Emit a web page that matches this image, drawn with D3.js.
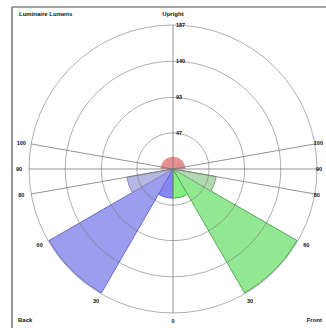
<!DOCTYPE html>
<html><head><meta charset="utf-8">
<script src="https://cdn.jsdelivr.net/npm/d3@7"></script>
<style>
body{margin:0;background:#fff;}
svg{display:block;}
text{font-family:"Liberation Sans",Arial,sans-serif;font-weight:bold;fill:#111;}
</style></head><body>
<svg id="c" width="326" height="328"></svg>
<script>
const zoneStart = [0, 30, 60, 80];
const zoneEnd = [30, 60, 80, 90];
const backLumens = [38, 186, 61, 0];
const frontLumens = [38, 186, 57, 0];
const upStart = 90, upEnd = 180;
const upBack = 16, upFront = 16;
const ringValues = [47, 93, 140, 187];
const angleTicks = [0, 30, 60, 80, 90, 100];
const spokeAngles = [80, 90, 100];
const backColors = ["#8585f4", "#9d9df0", "#b6b6e2", "#b6b6e2"];
const backStroke = ["#6464c8", "#6a6ac4", "#8a8ac0", "#8a8ac0"];
const frontColors = ["#84f084", "#92e892", "#b2dab2", "#b2dab2"];
const frontStroke = ["#50b050", "#56a856", "#80a880", "#80a880"];

const svg = d3.select("#c");
const cx = 173, cy = 169, R = 144;
const r = d3.scaleLinear().domain([0, 187]).range([0, R]);
const rad = d => d * Math.PI / 180;
const g = svg.append("g").attr("transform", `translate(${cx},${cy})`);

// frame
svg.append("line").attr("x1", 12).attr("y1", 7).attr("x2", 326).attr("y2", 7).attr("stroke", "#8a8a8a").attr("stroke-width", 1.6);
svg.append("line").attr("x1", 12).attr("y1", 7).attr("x2", 12).attr("y2", 328).attr("stroke", "#8a8a8a").attr("stroke-width", 1.8);

const arc = d3.arc();
const wedges = [];
zoneStart.forEach((s, i) => {
  wedges.push({side: "back", s, e: zoneEnd[i], v: backLumens[i], fill: backColors[i], stroke: backStroke[i]});
  wedges.push({side: "front", s, e: zoneEnd[i], v: frontLumens[i], fill: frontColors[i], stroke: frontStroke[i]});
});
wedges.push({side: "back", s: upStart, e: upEnd, v: upBack, fill: "#e89090", stroke: "none"});
wedges.push({side: "front", s: upStart, e: upEnd, v: upFront, fill: "#e89090", stroke: "none"});

g.selectAll("path.w").data(wedges.filter(d => d.v > 0)).join("path")
  .attr("class", "w")
  .attr("d", d => {
    let a0, a1;
    if (d.side === "front") { a0 = Math.PI - rad(d.e); a1 = Math.PI - rad(d.s); }
    else { a0 = Math.PI + rad(d.s); a1 = Math.PI + rad(d.e); }
    return arc({innerRadius: 0, outerRadius: r(d.v), startAngle: a0, endAngle: a1});
  })
  .attr("fill", d => d.fill)
  .attr("stroke", d => d.stroke)
  .attr("stroke-width", 1);

g.selectAll("circle.ring").data(ringValues).join("circle")
  .attr("class", "ring").attr("r", d => r(d))
  .attr("fill", "none").attr("stroke", "#777").attr("stroke-opacity", 0.75).attr("stroke-width", 0.8);

const pt = (deg, rr, side) => {
  const sgn = side === "front" ? 1 : -1;
  return [sgn * rr * Math.sin(rad(deg)), rr * Math.cos(rad(deg))];
};
g.append("line").attr("x1", 0).attr("y1", -R).attr("x2", 0).attr("y2", R).attr("stroke", "#777").attr("stroke-width", 0.8);
spokeAngles.forEach(a => {
  const p1 = pt(a, R, "back"), p2 = pt(a, R, "front");
  g.append("line").attr("x1", 0).attr("y1", 0).attr("x2", p1[0]).attr("y2", p1[1]).attr("stroke", "#777").attr("stroke-width", 0.8);
  g.append("line").attr("x1", 0).attr("y1", 0).attr("x2", p2[0]).attr("y2", p2[1]).attr("stroke", "#777").attr("stroke-width", 0.8);
});

g.selectAll("text.rl").data(ringValues).join("text")
  .attr("class", "rl").attr("x", 3).attr("y", d => -r(d)).attr("dy", "0.35em")
  .attr("font-size", 5.5).text(d => d);

const lab = [];
angleTicks.forEach(a => {
  if (a === 0) { lab.push({a, side: "front"}); return; }
  lab.push({a, side: "back"}); lab.push({a, side: "front"});
});
const nearEdge = d => d.side === "front" && d.a >= 80;
g.selectAll("text.al").data(lab).join("text")
  .attr("class", "al")
  .attr("x", d => nearEdge(d) ? pt(d.a, R, d.side)[0] - 1 : pt(d.a, R + 10, d.side)[0])
  .attr("y", d => pt(d.a, R + 8, d.side)[1])
  .attr("dy", "0.35em")
  .attr("text-anchor", d => nearEdge(d) ? "start" : "middle")
  .attr("font-size", 5.5).text(d => d.a);

svg.append("text").attr("x", 19).attr("y", 16).attr("font-size", 6).text("Luminaire Lumens");
svg.append("text").attr("x", cx).attr("y", 16).attr("text-anchor", "middle").attr("font-size", 6).text("Upright");
svg.append("text").attr("x", 18).attr("y", 322).attr("font-size", 6).text("Back");
svg.append("text").attr("x", 322).attr("y", 322).attr("text-anchor", "end").attr("font-size", 6).text("Front");
</script></body></html>
